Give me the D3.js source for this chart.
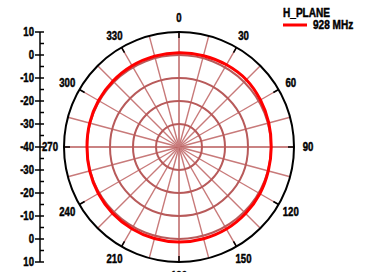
<!DOCTYPE html>
<html><head><meta charset="utf-8">
<script src="https://cdn.jsdelivr.net/npm/d3@7"></script>
<style>
html,body{margin:0;padding:0;background:#fff;}
text{font-family:"Liberation Sans","Arial",sans-serif;font-weight:bold;fill:#000;stroke:#000;stroke-width:0.45;}
</style></head>
<body><svg id="c" width="390" height="272"></svg>
<script>
// ---- data ----
const angles = [0,15,30,45,60,75,90,105,120,135,150,165,180,195,210,225,240,255,270,285,300,315,330,345];
const gain928 = [1.0,1.1,1.3,1.4,0.9,0.4,0.1,0.2,0.6,0.9,1.2,1.3,1.3,1.2,1.0,0.8,0.5,0.2,0.0,0.2,0.4,0.6,0.8,0.9];
const angleLabels = [0,30,60,90,120,150,180,210,240,270,300,330];
const ringValues = [-30,-20,-10,0];
const axisTicksTop = [10,0,-10,-20,-30,-40];
const axisTicksBottom = [-30,-20,-10,0,10];
const legendTitle = "H_PLANE";
const seriesName = "928 MHz";

const svg = d3.select("#c");
const cx = 179, cy = 147, R = 115;
const SX = 0.8;
const rScale = d3.scaleLinear().domain([-40,10]).range([0,R]);
const aRad = d => d*Math.PI/180;
const g = svg.append("g").attr("transform",`translate(${cx},${cy})`);

// spokes every 15 deg
g.selectAll("line.spoke").data(d3.range(0,360,15)).enter().append("line")
  .attr("x1",0).attr("y1",0)
  .attr("x2",d=>R*Math.sin(aRad(d))).attr("y2",d=>-R*Math.cos(aRad(d)))
  .attr("stroke",d=>d%90===0?"#b85a5a":"#c87a7a").attr("stroke-width",1.4);

// rings
g.selectAll("circle.ring").data(ringValues).enter().append("circle")
  .attr("r",d=>rScale(d)).attr("fill","none").attr("stroke","#b85a5a").attr("stroke-width",2);

// outer circle
g.append("circle").attr("r",R).attr("fill","none").attr("stroke","#000").attr("stroke-width",2);

// ticks on outer circle
g.selectAll("line.otick").data(angleLabels).enter().append("line")
  .attr("x1",d=>R*Math.sin(aRad(d))).attr("y1",d=>-R*Math.cos(aRad(d)))
  .attr("x2",d=>(R-6)*Math.sin(aRad(d))).attr("y2",d=>-(R-6)*Math.cos(aRad(d)))
  .attr("stroke","#000").attr("stroke-width",1.5);

// angle labels
g.selectAll("text.al").data(angleLabels).enter().append("text")
  .attr("transform",d=>`translate(${(R+14)*Math.sin(aRad(d))},${-(R+14)*Math.cos(aRad(d))}) scale(${SX},1)`)
  .attr("text-anchor","middle").attr("dominant-baseline","central")
  .attr("font-size",12).text(d=>d);

// trace
const pts = angles.map((a,i)=>[aRad(a), rScale(gain928[i])]);
const line = d3.lineRadial().angle(d=>d[0]).radius(d=>d[1]).curve(d3.curveCardinalClosed);
g.append("path").attr("d",line(pts)).attr("fill","none").attr("stroke","#ff0000").attr("stroke-width",3);

// left axis
const ax = 40;
const yTop = d3.scaleLinear().domain([10,-40]).range([cy-R,cy]);
const yBot = d3.scaleLinear().domain([-40,10]).range([cy,cy+R]);
svg.append("line").attr("x1",ax).attr("x2",ax).attr("y1",yTop(10)).attr("y2",yBot(10)).attr("stroke","#000").attr("stroke-width",1.5);
const majors = axisTicksTop.map(v=>({v,y:yTop(v)})).concat(axisTicksBottom.map(v=>({v,y:yBot(v)})));
svg.selectAll("line.maj").data(majors).enter().append("line")
  .attr("x1",ax-5).attr("x2",ax+4).attr("y1",d=>d.y).attr("y2",d=>d.y).attr("stroke","#000").attr("stroke-width",1.5);
const minors = d3.range(5,-40,-10).map(v=>yTop(v)).concat(d3.range(-35,10,10).map(v=>yBot(v)));
svg.selectAll("line.min").data(minors).enter().append("line")
  .attr("x1",ax).attr("x2",ax+4).attr("y1",d=>d).attr("y2",d=>d).attr("stroke","#000").attr("stroke-width",1.5);
svg.selectAll("text.yl").data(majors).enter().append("text")
  .attr("transform",d=>`translate(${ax-6},${d.y}) scale(${SX},1)`)
  .attr("text-anchor","end").attr("dominant-baseline","central")
  .attr("font-size",12).text(d=>d.v);

// legend
svg.append("text").attr("transform",`translate(283,17) scale(0.84,1)`).attr("font-size",12).text(legendTitle);
svg.append("line").attr("x1",283).attr("x2",307).attr("y1",25).attr("y2",25).attr("stroke","#ff0000").attr("stroke-width",3);
svg.append("text").attr("transform",`translate(313,29) scale(0.84,1)`).attr("font-size",12).text(seriesName);
</script></body></html>
